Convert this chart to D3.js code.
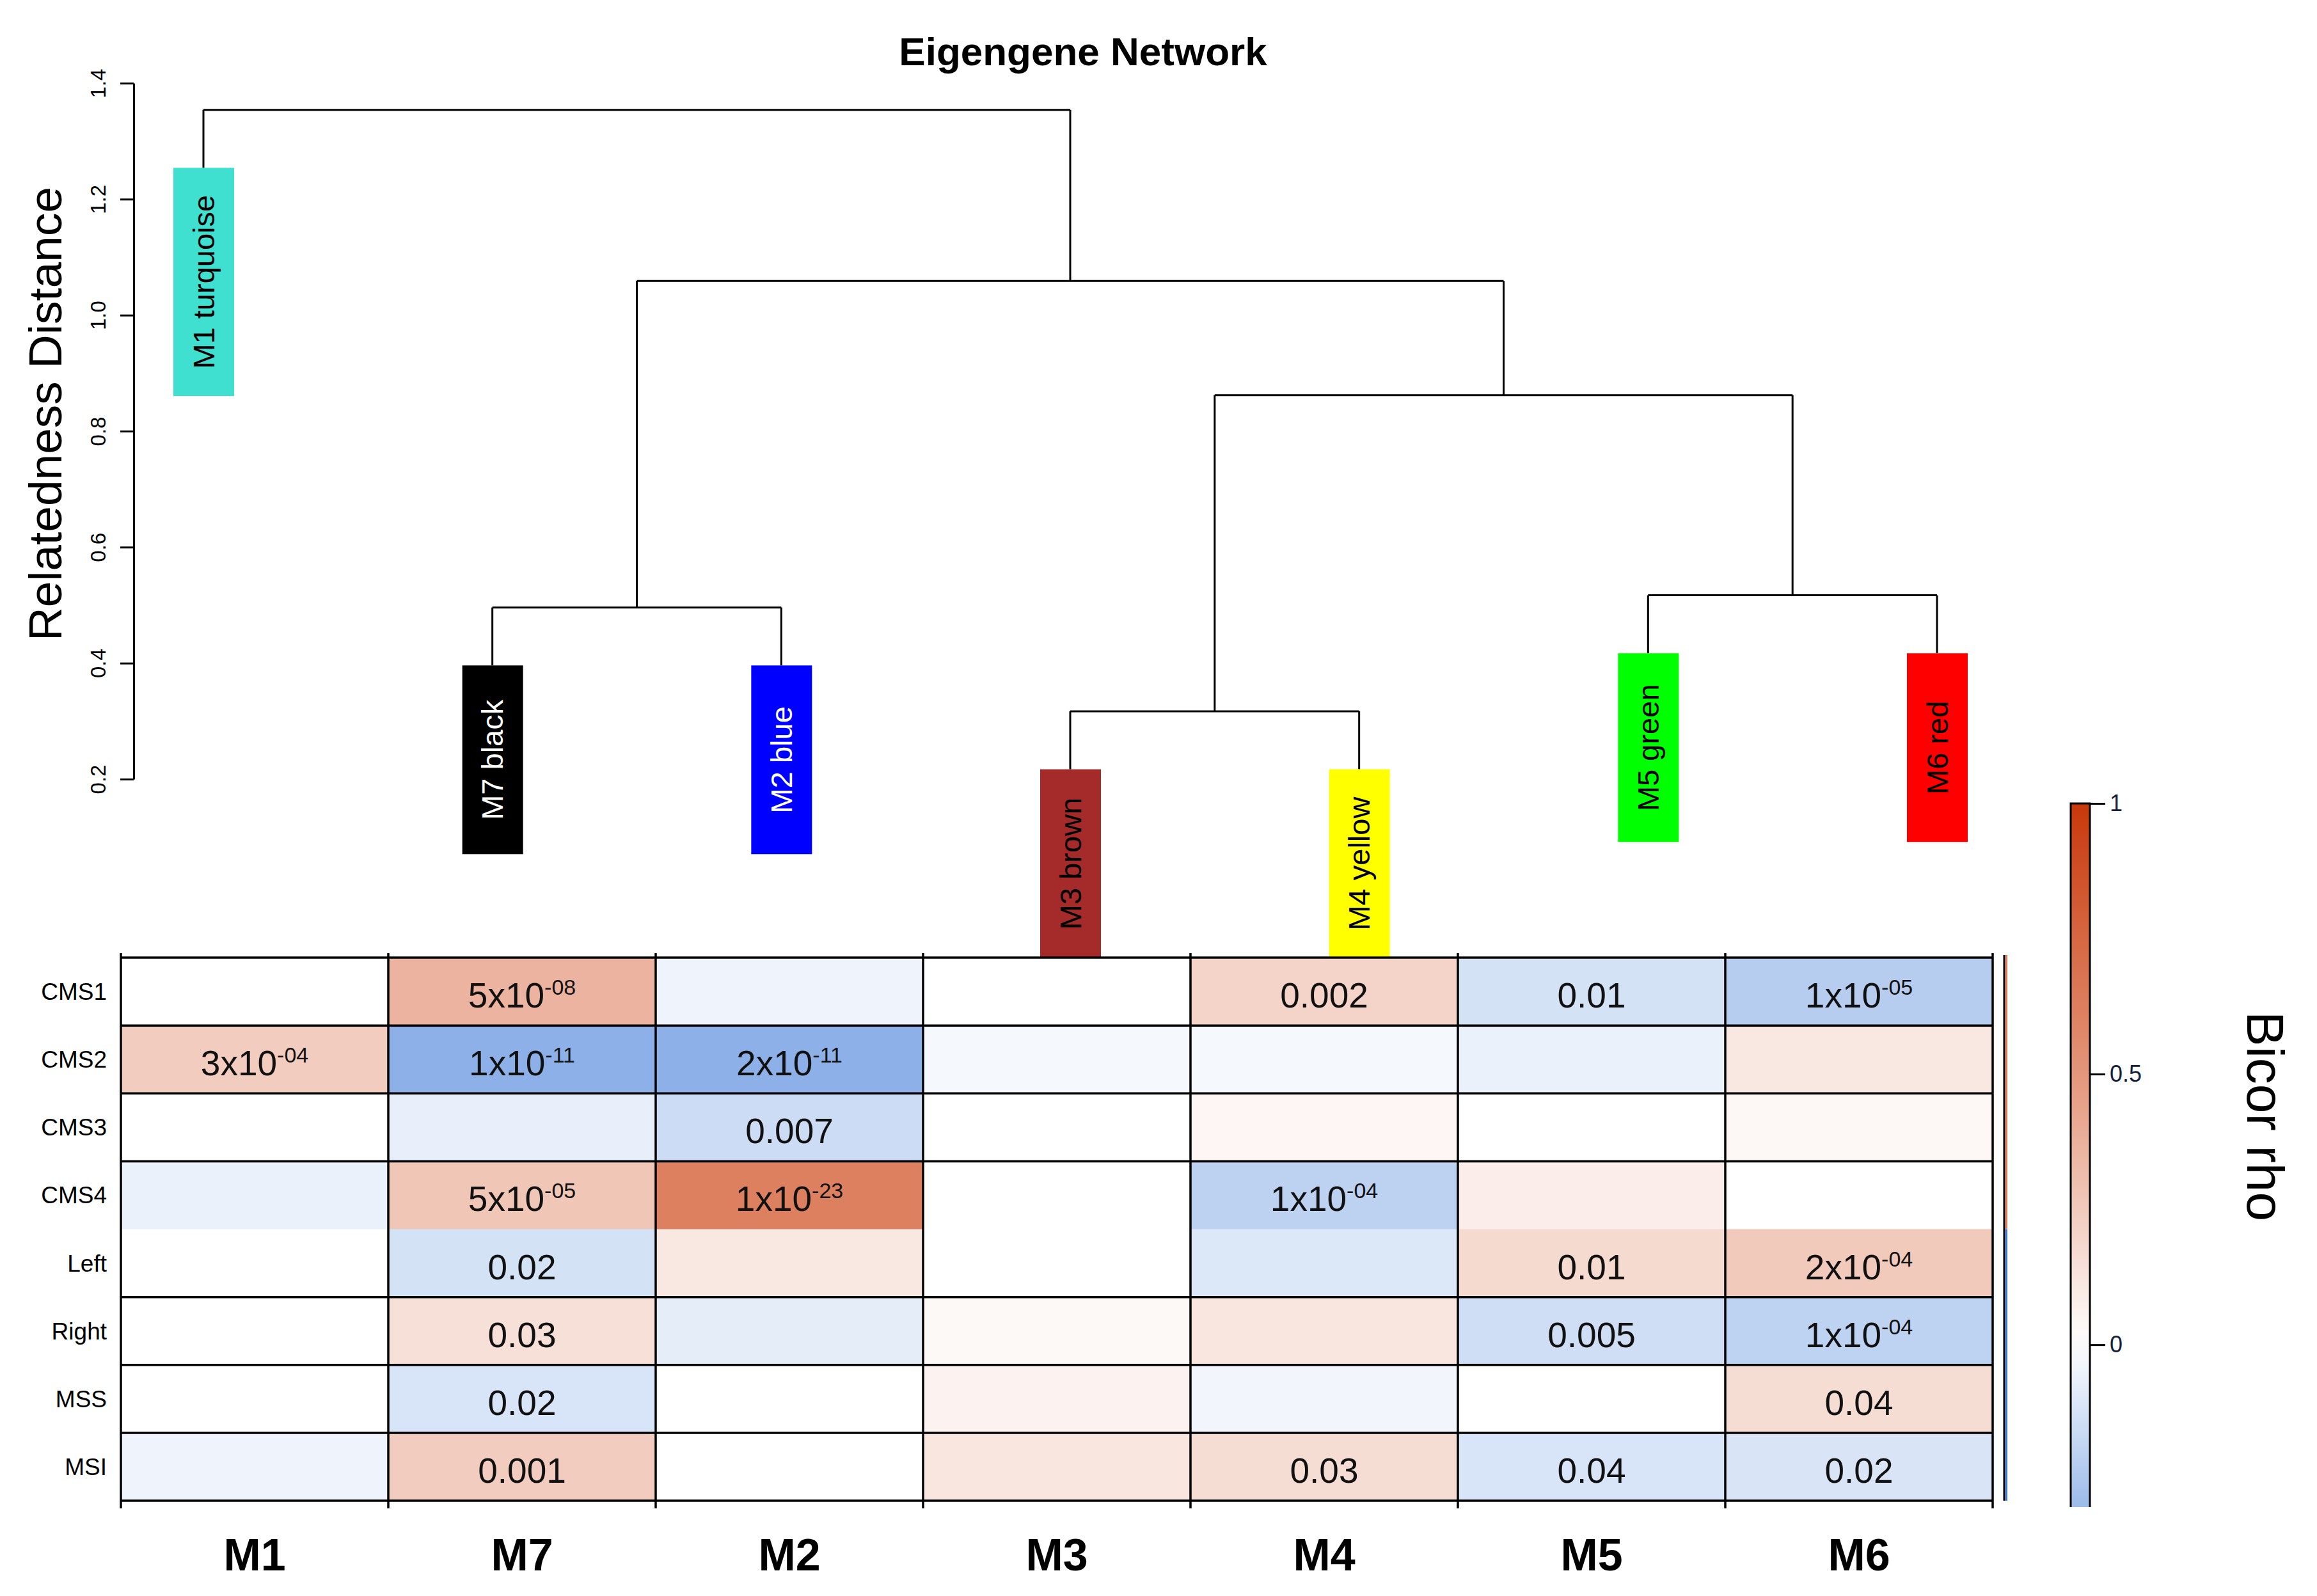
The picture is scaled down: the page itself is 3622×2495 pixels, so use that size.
<!DOCTYPE html>
<html>
<head>
<meta charset="utf-8">
<script src="https://cdn.jsdelivr.net/npm/d3@7"></script>
<style>
    body { margin: 0; background: #fff; }
    text { font-family: "Liberation Sans", Arial, Helvetica, sans-serif; }
</style>
</head>
<body>
<div id="chart"></div>
<script>
// dendrogram leaves, left to right
const leafOrder = ['M1', 'M7', 'M2', 'M3', 'M4', 'M5', 'M6'];
const leafNames = ['M1 turquoise', 'M7 black', 'M2 blue', 'M3 brown', 'M4 yellow', 'M5 green', 'M6 red'];
const leafColors = ['#40E0D0', '#000000', '#0000FF', '#A52A2A', '#FFFF00', '#00FF00', '#FF0000'];
const leafTextColors = ['#000', '#fff', '#fff', '#000', '#000', '#000', '#000'];

// merges, hclust style: node n(i+1) joins mergeA[i] and mergeB[i] at mergeHeight[i]
const mergeA = ['M3', 'M7', 'M5', 'n1', 'n2', 'M1'];
const mergeB = ['M4', 'M2', 'M6', 'n3', 'n4', 'n5'];
const mergeHeight = [0.317, 0.496, 0.517, 0.862, 1.059, 1.354];
const distTicks = [0.2, 0.4, 0.6, 0.8, 1.0, 1.2, 1.4];

// trait heatmap
const traitRows = ['CMS1', 'CMS2', 'CMS3', 'CMS4', 'Left', 'Right', 'MSS', 'MSI'];
const traitCols = ['M1', 'M7', 'M2', 'M3', 'M4', 'M5', 'M6'];
const rho = [
    [0, 0.357, -0.05, 0, 0.205, -0.13, -0.22],
    [0.243, -0.35, -0.35, -0.03, -0.03, -0.06, 0.11],
    [0, -0.07, -0.155, 0, 0.043, 0, 0.033],
    [-0.06, 0.27, 0.617, 0, -0.2, 0.08, 0],
    [0, -0.13, 0.11, 0, -0.106, 0.176, 0.252],
    [0, 0.148, -0.08, 0.03, 0.12, -0.145, -0.197],
    [0, -0.118, 0, 0.06, -0.04, 0, 0.16],
    [-0.05, 0.24, 0, 0.12, 0.16, -0.118, -0.115],
];
const pText = [
    ['', '5x10-08', '', '', '0.002', '0.01', '1x10-05'],
    ['3x10-04', '1x10-11', '2x10-11', '', '', '', ''],
    ['', '', '0.007', '', '', '', ''],
    ['', '5x10-05', '1x10-23', '', '1x10-04', '', ''],
    ['', '0.02', '', '', '', '0.01', '2x10-04'],
    ['', '0.03', '', '', '', '0.005', '1x10-04'],
    ['', '0.02', '', '', '', '', '0.04'],
    ['', '0.001', '', '', '0.03', '0.04', '0.02'],
];
const barTicks = [0, 0.5, 1];
const barDomain = [-0.3, 1];

const width = 3622;
const height = 2495;
const hang = 0.1;

const svg = d3.select('#chart')
    .append('svg')
    .attr('width', width)
    .attr('height', height);

svg.append('text')
    .attr('x', 1693)
    .attr('y', 102)
    .attr('text-anchor', 'middle')
    .attr('font-size', 62)
    .attr('font-weight', 'bold')
    .text('Eigengene Network');

// ---- dendrogram ----
const x = d3.scalePoint().domain(leafOrder).range([318, 3028]);
const y = d3.scaleLinear().domain([0.2, 1.4]).range([1218, 130]);

const yAxis = d3.axisLeft(y)
    .tickValues(distTicks)
    .tickFormat(d3.format('.1f'))
    .tickSize(21)
    .tickSizeOuter(0);

svg.append('g')
    .attr('transform', 'translate(209,0)')
    .call(yAxis)
    .call((g) => g.select('.domain').attr('stroke-width', 3))
    .call((g) => g.selectAll('.tick line').attr('stroke-width', 3))
    .call((g) => g.selectAll('.tick text')
        .attr('x', 0)
        .attr('dy', 0)
        .attr('fill', '#000')
        .attr('font-size', 33)
        .attr('text-anchor', 'middle')
        .attr('transform', 'translate(-44,0) rotate(-90)'));

svg.append('text')
    .attr('transform', 'translate(96,647) rotate(-90)')
    .attr('text-anchor', 'middle')
    .attr('font-size', 73)
    .text('Relatedness Distance');

const nodes = {};
leafOrder.forEach((d) => {
    nodes[d] = {x: x(d), leaf: true};
});
const dendro = svg.append('g')
    .attr('fill', 'none')
    .attr('stroke', '#000')
    .attr('stroke-width', 3);
const leafBottom = {};

mergeHeight.forEach((h, i) => {
    const a = nodes[mergeA[i]];
    const b = nodes[mergeB[i]];
    const yTop = y(h);
    [[a, mergeA[i]], [b, mergeB[i]]].forEach(([c, name]) => {
        const yEnd = c.leaf ? y(h - hang) : y(c.h);
        if (c.leaf) {
            leafBottom[name] = yEnd;
        }
        dendro.append('line')
            .attr('x1', c.x).attr('x2', c.x)
            .attr('y1', yTop).attr('y2', yEnd);
    });
    dendro.append('line')
        .attr('x1', a.x).attr('x2', b.x)
        .attr('y1', yTop).attr('y2', yTop);
    nodes['n' + (i + 1)] = {x: (a.x + b.x) / 2, h: h};
});

// coloured leaf labels
leafOrder.forEach((d, i) => {
    const g = svg.append('g');
    const label = g.append('text')
        .attr('font-size', 47)
        .attr('fill', leafTextColors[i])
        .attr('text-anchor', 'middle')
        .attr('dominant-baseline', 'central')
        .text(leafNames[i]);
    const len = Math.max(295, label.node().getComputedTextLength() + 85);
    const top = leafBottom[d];
    label.attr('transform', 'translate(' + x(d) + ',' + (top + len / 2) + ') rotate(-90)');
    g.insert('rect', 'text')
        .attr('x', x(d) - 47)
        .attr('y', top)
        .attr('width', 95)
        .attr('height', len)
        .attr('fill', leafColors[i]);
});

// ---- heatmap ----
const color = d3.scaleLinear()
    .domain([-0.5, 0, 0.5, 1])
    .range(['#5A8EDC', '#FFFFFF', '#E4967A', '#C8380A'])
    .clamp(true);

const hx = d3.scaleBand().domain(traitCols).range([189, 3115]);
const hy = d3.scaleBand().domain(traitRows).range([1497, 2346]);

const cells = [];
traitRows.forEach((r, i) => {
    traitCols.forEach((c, j) => {
        cells.push({row: r, col: c, v: rho[i][j], p: pText[i][j]});
    });
});

svg.append('g')
    .selectAll('rect')
    .data(cells)
    .enter()
    .append('rect')
    .attr('x', (d) => hx(d.col))
    .attr('y', (d) => hy(d.row))
    .attr('width', hx.bandwidth() + 0.5)
    .attr('height', hy.bandwidth() + 0.5)
    .attr('fill', (d) => color(d.v));

const grid = svg.append('g').attr('stroke', '#000').attr('stroke-width', 3.5);
traitRows.forEach((r, i) => {
    // the reference has no rule between CMS4 and Left
    if (r === 'Left') {
        return;
    }
    grid.append('line')
        .attr('x1', hx.range()[0]).attr('x2', hx.range()[1])
        .attr('y1', hy(r)).attr('y2', hy(r));
});
grid.append('line')
    .attr('x1', hx.range()[0]).attr('x2', hx.range()[1])
    .attr('y1', hy.range()[1]).attr('y2', hy.range()[1]);
traitCols.concat([null]).forEach((c) => {
    const xx = c === null ? hx.range()[1] : hx(c);
    grid.append('line')
        .attr('x1', xx).attr('x2', xx)
        .attr('y1', hy.range()[0] - 7).attr('y2', hy.range()[1] + 12);
});

// thin side strip right of the heatmap
const stripX = hx.range()[1] + 18;
svg.append('line')
    .attr('x1', stripX).attr('x2', stripX)
    .attr('y1', hy.range()[0] - 4).attr('y2', hy.range()[1])
    .attr('stroke', '#000').attr('stroke-width', 3);
svg.append('rect')
    .attr('x', stripX + 2).attr('y', hy.range()[0] - 4)
    .attr('width', 3).attr('height', hy('Left') - hy.range()[0] + 4)
    .attr('fill', '#E27A5A');
svg.append('rect')
    .attr('x', stripX + 2).attr('y', hy('Left'))
    .attr('width', 3).attr('height', hy.range()[1] - hy('Left'))
    .attr('fill', '#3A78D8');

// p-value labels
const pLabels = svg.append('g')
    .selectAll('text')
    .data(cells.filter((d) => d.p !== ''))
    .enter()
    .append('text')
    .attr('x', (d) => hx(d.col) + hx.bandwidth() / 2)
    .attr('y', (d) => hy(d.row) + hy.bandwidth() / 2 + 25)
    .attr('text-anchor', 'middle')
    .attr('font-size', 55)
    .attr('fill', '#111');

pLabels.each(function(d) {
    const t = d3.select(this);
    const k = d.p.indexOf('x10');
    if (k < 0) {
        t.text(d.p);
        return;
    }
    t.append('tspan').text(d.p.slice(0, k + 3));
    t.append('tspan')
        .attr('font-size', 34)
        .attr('dy', -20)
        .text(d.p.slice(k + 3));
});

svg.append('g')
    .selectAll('text')
    .data(traitRows)
    .enter()
    .append('text')
    .attr('x', 167)
    .attr('y', (d) => hy(d) + hy.bandwidth() / 2 + 13)
    .attr('text-anchor', 'end')
    .attr('font-size', 37)
    .text((d) => d);

svg.append('g')
    .selectAll('text')
    .data(traitCols)
    .enter()
    .append('text')
    .attr('x', (d) => hx(d) + hx.bandwidth() / 2)
    .attr('y', 2455)
    .attr('text-anchor', 'middle')
    .attr('font-size', 70)
    .attr('font-weight', 'bold')
    .text((d) => d);

// ---- colour bar ----
const barY = d3.scaleLinear().domain(barDomain).range([2356, 1256]);
const barX = 3237;
const barW = 30;

const grad = svg.append('defs')
    .append('linearGradient')
    .attr('id', 'bicor')
    .attr('x1', 0).attr('y1', 1)
    .attr('x2', 0).attr('y2', 0);
d3.range(0, 1.0001, 0.05).forEach((t) => {
    const v = barDomain[0] + t * (barDomain[1] - barDomain[0]);
    grad.append('stop')
        .attr('offset', t)
        .attr('stop-color', color(v));
});

svg.append('rect')
    .attr('x', barX).attr('y', barY(1))
    .attr('width', barW).attr('height', barY(-0.3) - barY(1))
    .attr('fill', 'url(#bicor)');
svg.append('path')
    .attr('d', 'M' + barX + ',' + barY(-0.3) + 'V' + barY(1) + 'H' + (barX + barW) + 'V' + barY(-0.3))
    .attr('fill', 'none')
    .attr('stroke', '#000')
    .attr('stroke-width', 3);

svg.append('g')
    .attr('transform', 'translate(' + (barX + barW) + ',0)')
    .call(d3.axisRight(barY).tickValues(barTicks).tickFormat(d3.format('')).tickSize(24))
    .call((g) => g.select('.domain').remove())
    .call((g) => g.selectAll('.tick line').attr('stroke-width', 3))
    .call((g) => g.selectAll('.tick text')
        .attr('x', 31)
        .attr('font-size', 36)
        .attr('fill', '#14213d'));

svg.append('text')
    .attr('transform', 'translate(3513,1745) rotate(90)')
    .attr('text-anchor', 'middle')
    .attr('font-size', 82)
    .text('Bicor rho');
</script>
</body>
</html>
